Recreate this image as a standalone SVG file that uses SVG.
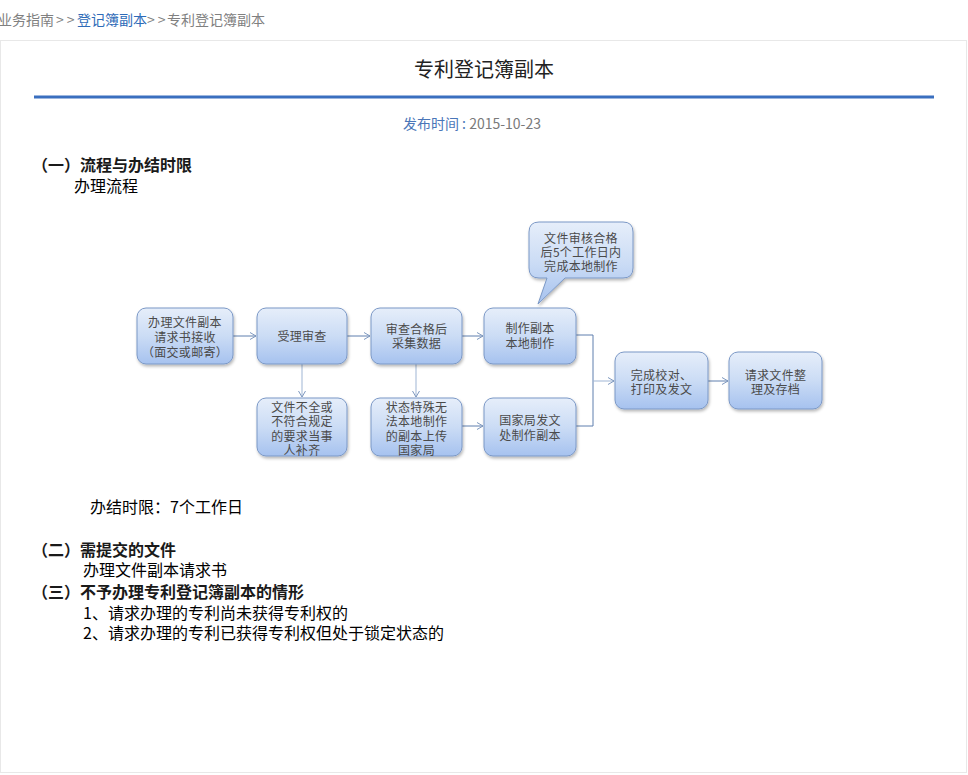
<svg xmlns="http://www.w3.org/2000/svg" width="968" height="775" viewBox="0 0 968 775">
<defs>
<linearGradient id="g" x1="0" y1="0" x2="0" y2="1">
<stop offset="0" stop-color="#e6eefa"/>
<stop offset="0.5" stop-color="#cbdcf5"/>
<stop offset="1" stop-color="#a6c2ef"/>
</linearGradient>
<filter id="sh" x="-10%" y="-10%" width="130%" height="140%">
<feDropShadow dx="1" dy="2" stdDeviation="1.5" flood-color="#000" flood-opacity="0.28"/>
</filter>
<marker id="ar" markerWidth="8" markerHeight="9" refX="7" refY="4.5" orient="auto" markerUnits="userSpaceOnUse">
<path d="M1,1 L7,4.5 L1,8" fill="none" stroke="#7e98bf" stroke-width="1"/>
</marker>
<style>
.page{font-family:"Noto Sans CJK SC","Noto Sans",sans-serif}
.box{fill:url(#g);stroke:#7b98c6;stroke-width:1;filter:url(#sh)}
.nt{font-family:"Noto Sans CJK SC","Noto Sans",sans-serif;font-size:12px;fill:#4a4a4a;text-anchor:middle;letter-spacing:0.3px}
.body{font-family:"Noto Sans CJK SC",sans-serif;font-size:16px;fill:#000}
.hd{font-weight:bold;fill:#1a1a1a}
.c{fill:none;stroke:#5f7fae;stroke-width:1}
.cv{fill:none;stroke:#9fb5d4;stroke-width:1}
</style>
</defs>
<rect width="968" height="775" fill="#ffffff"/>
<rect x="0.5" y="40.5" width="966" height="732" fill="#ffffff" stroke="#e8e8e8"/>
<text class="page" x="-2" y="25" font-size="14" fill="#808080">业务指南<tspan x="56" letter-spacing="3">&gt;&gt;</tspan><tspan x="77" fill="#2e6bb8">登记簿副本</tspan><tspan x="147" letter-spacing="3">&gt;&gt;</tspan><tspan x="167">专利登记簿副本</tspan></text>
<text class="page" x="484" y="77" font-size="20" fill="#222" text-anchor="middle">专利登记簿副本</text>
<rect x="34" y="95.5" width="900" height="3" fill="#3a6fbf"/>
<text class="page" x="472" y="129" font-size="14" fill="#7a7a7a" text-anchor="middle"><tspan fill="#4a76b8">发布时间 : </tspan>2015-10-23</text>

<text class="body hd" x="32" y="171">（一）流程与办结时限</text>
<text class="body" x="74" y="192">办理流程</text>

<g id="connectors">
<path class="c" d="M233,336 H256" marker-end="url(#ar)"/>
<path class="c" d="M347,336 H370" marker-end="url(#ar)"/>
<path class="c" d="M462,336 H483" marker-end="url(#ar)"/>
<path class="cv" d="M302,364 V397" marker-end="url(#ar)"/>
<path class="cv" d="M416,364 V397" marker-end="url(#ar)"/>
<path class="c" d="M462,426 H483" marker-end="url(#ar)"/>
<path class="c" d="M576,335 H593 V426 H576"/>
<path class="cv" d="M593,381 H614" marker-end="url(#ar)"/>
<path class="c" d="M708,381 H728" marker-end="url(#ar)"/>
</g>

<g id="n1"><rect class="box" x="137" y="308" width="96" height="56" rx="9"/>
<text class="nt" x="185" y="326.5">办理文件副本</text>
<text class="nt" x="185" y="341.5">请求书接收</text>
<text class="nt" x="185" y="356.5">（面交或邮寄）</text></g>

<g id="n2"><rect class="box" x="257" y="308" width="90" height="56" rx="9"/>
<text class="nt" x="302" y="340.5">受理审查</text></g>

<g id="n3"><rect class="box" x="371" y="308" width="91" height="56" rx="9"/>
<text class="nt" x="416.5" y="333.5">审查合格后</text>
<text class="nt" x="416.5" y="348">采集数据</text></g>

<g id="n4"><rect class="box" x="484" y="308" width="92" height="56" rx="9"/>
<text class="nt" x="530" y="333">制作副本</text>
<text class="nt" x="530" y="347.5">本地制作</text></g>

<g id="callout"><path class="box" d="M539,222 H623 Q633,222 633,232 V268 Q633,278 623,278 H565 L538,304 L547,278 H539 Q529,278 529,268 V232 Q529,222 539,222 Z"/>
<text class="nt" x="581" y="242.5">文件审核合格</text>
<text class="nt" x="581" y="256.5">后5个工作日内</text>
<text class="nt" x="581" y="271">完成本地制作</text></g>

<g id="n5"><rect class="box" x="257" y="398" width="90" height="58" rx="9"/>
<text class="nt" x="302" y="411.5">文件不全或</text>
<text class="nt" x="302" y="426">不符合规定</text>
<text class="nt" x="302" y="440.5">的要求当事</text>
<text class="nt" x="302" y="455">人补齐</text></g>

<g id="n6"><rect class="box" x="371" y="398" width="91" height="58" rx="9"/>
<text class="nt" x="416.5" y="411.5">状态特殊无</text>
<text class="nt" x="416.5" y="426">法本地制作</text>
<text class="nt" x="416.5" y="440.5">的副本上传</text>
<text class="nt" x="416.5" y="455">国家局</text></g>

<g id="n7"><rect class="box" x="484" y="398" width="92" height="58" rx="9"/>
<text class="nt" x="530" y="424.5">国家局发文</text>
<text class="nt" x="530" y="439.5">处制作副本</text></g>

<g id="n8"><rect class="box" x="615" y="352" width="93" height="57" rx="9"/>
<text class="nt" x="661.5" y="379.5">完成校对、</text>
<text class="nt" x="661.5" y="393.5">打印及发文</text></g>

<g id="n9"><rect class="box" x="729" y="352" width="93" height="57" rx="9"/>
<text class="nt" x="775.5" y="379.5">请求文件整</text>
<text class="nt" x="775.5" y="393.5">理及存档</text></g>

<text class="body" x="90" y="513">办结时限：7个工作日</text>
<text class="body hd" x="32" y="556">（二）需提交的文件</text>
<text class="body" x="83" y="576">办理文件副本请求书</text>
<text class="body hd" x="32" y="598">（三）不予办理专利登记簿副本的情形</text>
<text class="body" x="83" y="619">1、请求办理的专利尚未获得专利权的</text>
<text class="body" x="83" y="639">2、请求办理的专利已获得专利权但处于锁定状态的</text>
</svg>
